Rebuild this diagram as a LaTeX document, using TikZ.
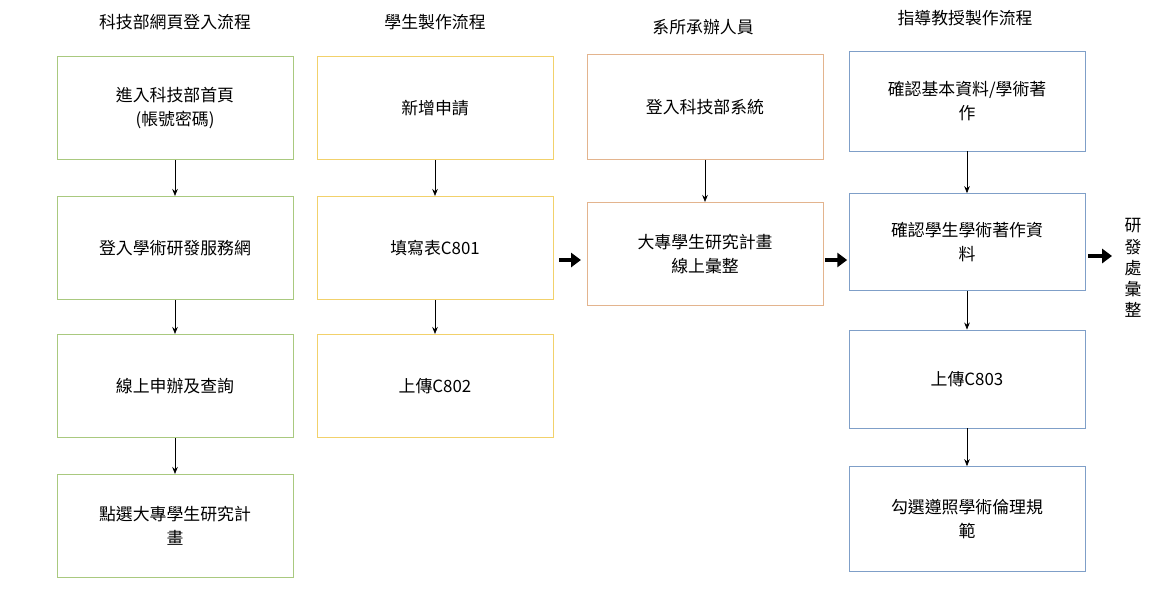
\documentclass[tikz,border=0pt]{standalone}
\usepackage{fontspec}
\setmainfont{Noto Sans CJK TC}
\usetikzlibrary{arrows.meta,positioning}
\definecolor{boxgreen}{HTML}{A9C97F}
\definecolor{boxyellow}{HTML}{F2D16B}
\definecolor{boxorange}{HTML}{E3B48E}
\definecolor{boxblue}{HTML}{7F9FC8}
\begin{document}
\begin{tikzpicture}[x=0.025cm,y=-0.025cm,font=\fontsize{12}{17}\selectfont]

        % Setup the styles for the boxes
        \tikzset{box/.style={draw, line width=0.6pt, minimum width=5.9cm,
                             minimum height=2.58cm, align=center, inner sep=2pt},
                 green box/.style={box, draw=boxgreen},
                 yellow box/.style={box, draw=boxyellow},
                 orange box/.style={box, draw=boxorange},
                 blue box/.style={box, draw=boxblue, minimum height=2.5cm},
                 thin arrow/.style={-{Stealth[length=5pt,width=4pt]}, line width=0.5pt},
                 thick arrow/.style={-{Triangle[length=7pt,width=10pt]}, line width=3.5pt}}

        \useasboundingbox (0,0) rectangle (1163,612);

        % Titles
        \node at (175, 22)  (T1) {科技部網頁登入流程};
        \node at (435, 22)  (T2) {學生製作流程};
        \node at (703, 27)  (T3) {系所承辦人員};
        \node at (965, 18)  (T4) {指導教授製作流程};

        % Column one
        \node[green box] at (175, 108) (G1) {進入科技部首頁\\(帳號密碼)};
        \node[green box] at (175, 248) (G2) {登入學術研發服務網};
        \node[green box] at (175, 386) (G3) {線上申辦及查詢};
        \node[green box] at (175, 526) (G4) {點選大專學生研究計\\畫};

        % Column two
        \node[yellow box] at (435, 108) (Y1) {新增申請};
        \node[yellow box] at (435, 248) (Y2) {填寫表C801};
        \node[yellow box] at (435, 386) (Y3) {上傳C802};

        % Column three
        \node[orange box, minimum height=2.62cm] at (705, 107) (O1) {登入科技部系統};
        \node[orange box] at (705, 254) (O2) {大專學生研究計畫\\線上彙整};

        % Column four
        \node[blue box] at (967, 101) (B1) {確認基本資料/學術著\\作};
        \node[blue box, minimum height=2.42cm] at (967, 242) (B2) {確認學生學術著作資\\料};
        \node[blue box, minimum height=2.45cm] at (967, 379) (B3) {上傳C803};
        \node[blue box, minimum height=2.62cm] at (967, 519) (B4) {勾選遵照學術倫理規\\範};

        % Vertical text
        \node[align=center, font=\fontsize{12}{15}\selectfont] at (1133, 268) (R) {研\\發\\處\\彙\\整};
        \coordinate (Rin) at (1112, 256);

        % Thin arrows
        \draw[thin arrow] (G1) -- (G2);
        \draw[thin arrow] (G2) -- (G3);
        \draw[thin arrow] (G3) -- (G4);
        \draw[thin arrow] (Y1) -- (Y2);
        \draw[thin arrow] (Y2) -- (Y3);
        \draw[thin arrow] (O1) -- (O2);
        \draw[thin arrow] (B1) -- (B2);
        \draw[thin arrow] (B2) -- (B3);
        \draw[thin arrow] (B3) -- (B4);

        % Thick arrows
        \draw[thick arrow] ([xshift=4pt]Y2.east |- 0,260) -- ([xshift=-4pt]O2.west |- 0,260);
        \draw[thick arrow] ([xshift=1pt]O2.east |- 0,260) -- ([xshift=-1pt]B2.west |- 0,260);
        \draw[thick arrow] ([xshift=2pt]B2.east |- Rin) -- (Rin);
\end{tikzpicture}
\end{document}
